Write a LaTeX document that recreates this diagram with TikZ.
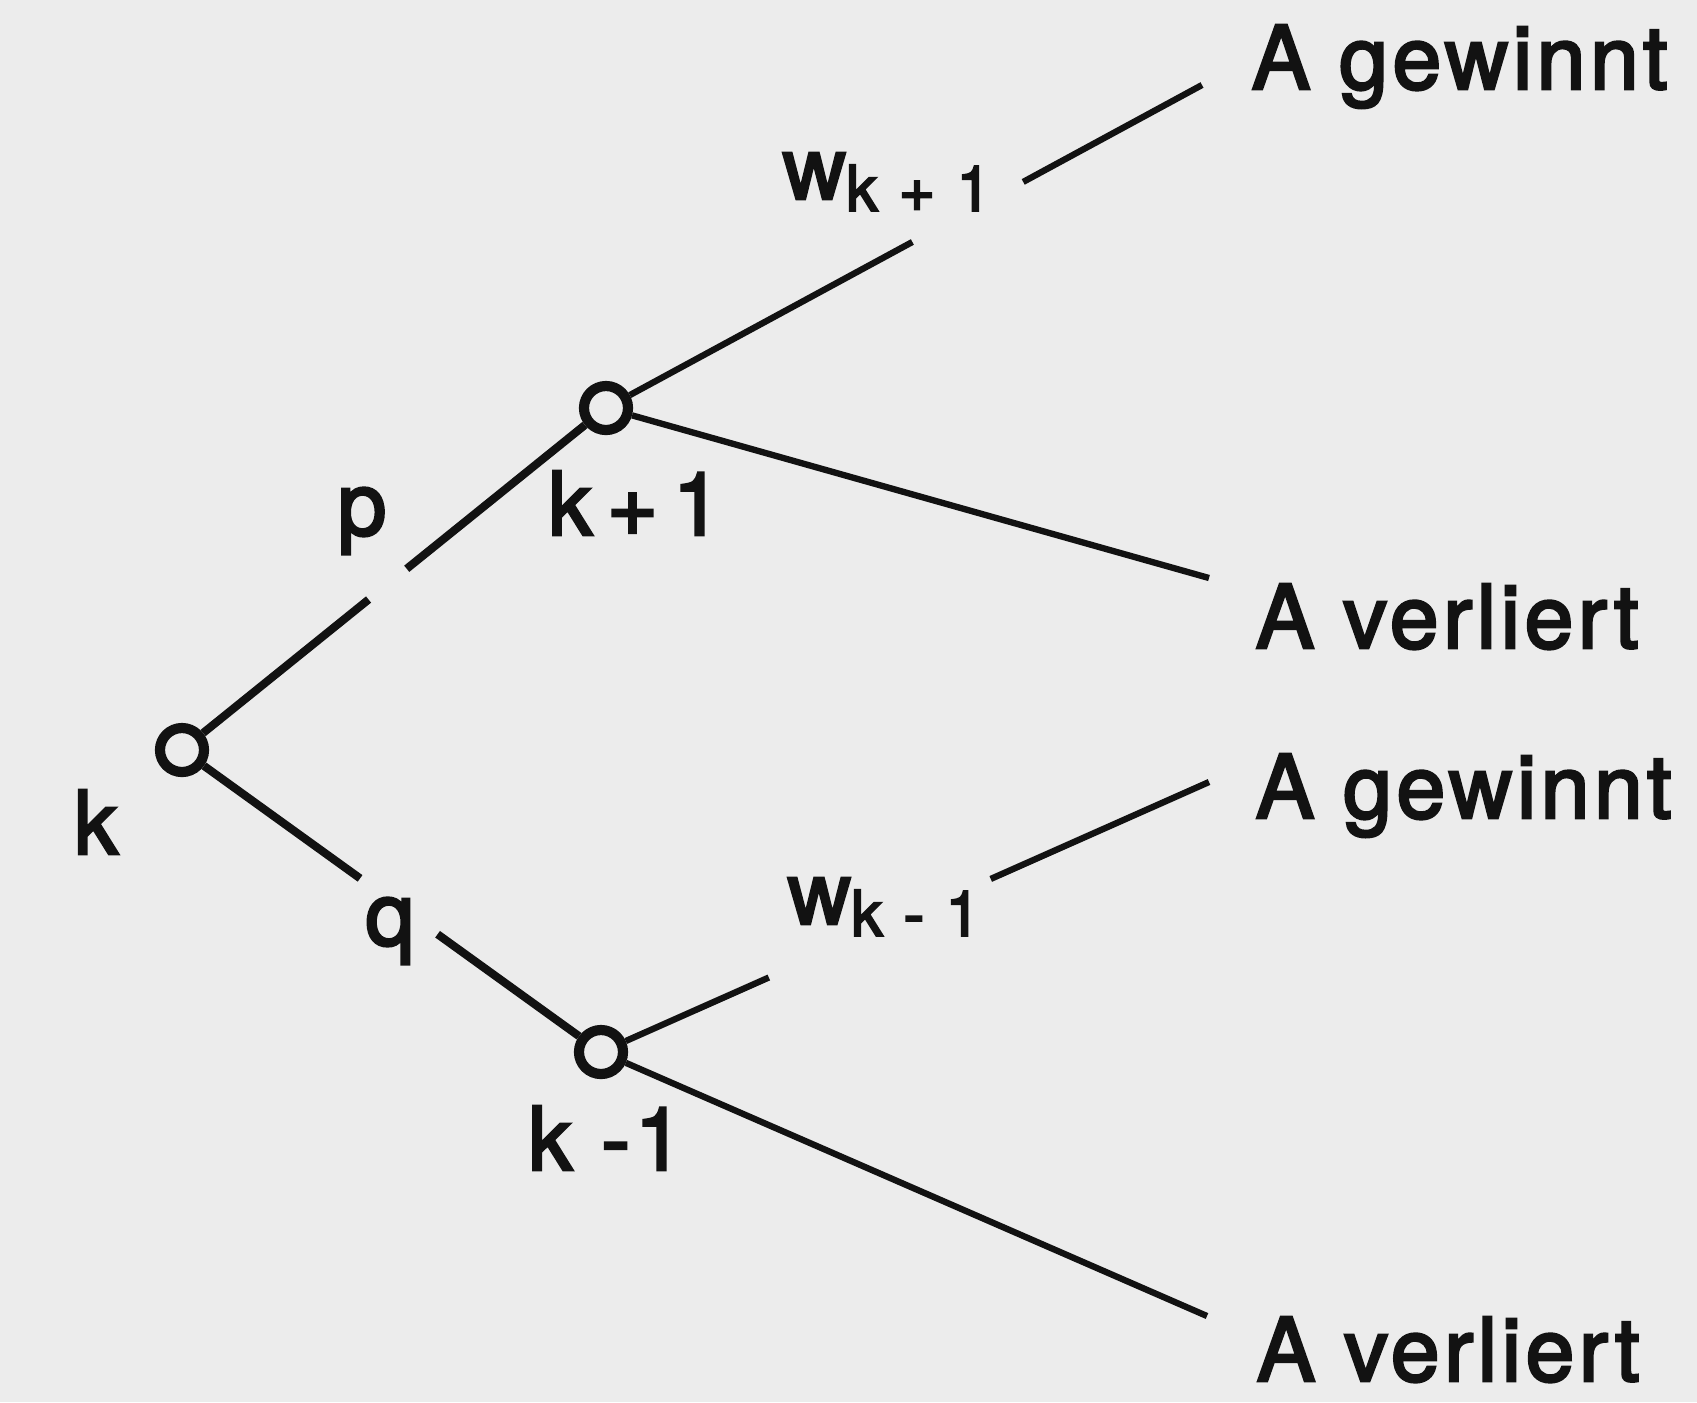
\documentclass[tikz,border=0pt]{standalone}
\usepackage{fontspec}
\setmainfont[LetterSpace=5,FakeBold=3]{TeX Gyre Heros}
\usepackage{tikz}
\usetikzlibrary{
  calc,        % Lücken in den Ästen
  positioning  % Beschriftungen relativ zu den Knoten
}
\definecolor{papier}{RGB}{236,236,236}
\definecolor{tinte}{RGB}{18,18,18}
\newcommand{\idxschrift}{\fontsize{18}{20}\selectfont}

\begin{document}
\begin{tikzpicture}[x=0.01cm, y=-0.01cm,
    zustand/.style={circle, draw=tinte, line width=2.9pt, minimum size=0.44cm, inner sep=0pt},
    ast/.style={draw=tinte, line width=2.3pt},
    zweig/.style={draw=tinte, line width=1.8pt},
    txt/.style={inner sep=0pt, anchor=base, text=tinte, font=\fontsize{25}{30}\selectfont},
    ende/.style={txt, anchor=base west}]
    % Papier
    \fill[papier] (0,0) rectangle (1697,1402);
    \useasboundingbox (0,0) rectangle (1697,1402);

    % --- Zustände ---
    \node[zustand] (k)  at (182,750)  {};
    \node[zustand] (kp) at (606,408)  {};
    \node[zustand] (km) at (601,1052) {};
    \coordinate (e1) at (1202,85);
    \coordinate (e2) at (1209,578);
    \coordinate (e3) at (1209,782);
    \coordinate (e4) at (1207,1316);

    % --- erste Stufe: p und q ---
    \draw[ast] (k) -- ($(k)!0.44!(kp)$) ($(k)!0.53!(kp)$) -- (kp);
    \draw[ast] (k) -- ($(k)!0.425!(km)$) ($(k)!0.61!(km)$) -- (km);

    % --- zweite Stufe ---
    \draw[zweig] (kp) -- ($(kp)!0.514!(e1)$) ($(kp)!0.70!(e1)$) -- (e1);
    \draw[zweig] (kp) -- (e2);
    \draw[zweig] (km) -- ($(km)!0.276!(e3)$) ($(km)!0.641!(e3)$) -- (e3);
    \draw[zweig] (km) -- (e4);

    % Beschriftungen
    \node[txt] (lk)  at (96,854)   {k};
    \node[txt] (lp)  at (362,535)  {p};
    \node[txt] (lq)  at (390,945)  {q};
    \node[txt] (lkp) at (635,535)  {k\,+\,1};
    \node[txt] (lkm) at (606,1170) {k -1};
    \node[ende] (wkp) at (782,199) {w\raisebox{-0.12cm}{\idxschrift k + 1}};
    \node[ende] (wkm) at (787,924) {w\raisebox{-0.12cm}{\idxschrift k - 1}};

    % Ausgänge
    \foreach \n/\x/\y/\t in {g1/1251/89/A gewinnt, v1/1255/648/A verliert,
                             g2/1255/818/A gewinnt, v2/1256/1381/A verliert}{
      \node[ende] (\n) at (\x,\y) {\t};
    }
\end{tikzpicture}
\end{document}
